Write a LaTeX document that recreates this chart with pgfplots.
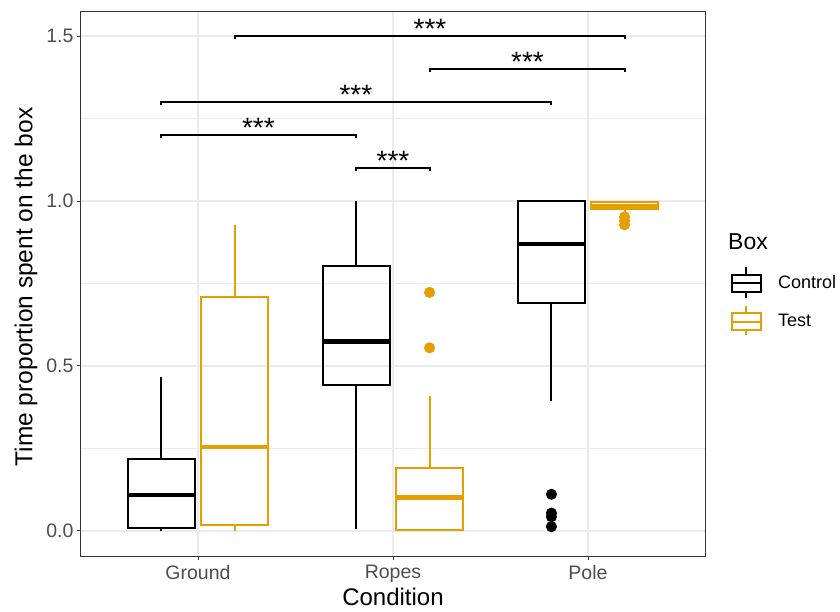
\documentclass[border=0pt]{standalone}
\usepackage{pgfplots}
\pgfplotsset{compat=1.18}
\usepgfplotslibrary{statistics}
\usepackage{fontspec}
\setmainfont{Liberation Sans}
\definecolor{testc}{HTML}{E69F00}
\definecolor{grid92}{HTML}{EBEBEB}
\definecolor{g20}{HTML}{333333}
\definecolor{g30}{HTML}{4D4D4D}
\pgfplotsset{
  boxplot/every median/.style={line width=4.5pt},
  boxplot/every box/.style={line width=2pt},
  boxplot/every whisker/.style={line width=2pt},
}
\begin{document}
\begin{tikzpicture}
\useasboundingbox (-81pt,-55pt) rectangle (759pt,556pt);
\begin{axis}[
  at={(0pt,0pt)}, anchor=south west,
  scale only axis, width=624pt, height=544pt,
  xmin=0.4, xmax=3.6, ymin=-0.076, ymax=1.573,
  boxplot/draw direction=y,
  xtick={1,2,3}, xticklabels={Ground,Ropes,Pole},
  ytick={0,0.5,1,1.5}, minor ytick={0.25,0.75,1.25},
  grid=both,
  major grid style={color=grid92, line width=1.2pt},
  minor grid style={color=grid92, line width=0.8pt},
  axis line style={g20, line width=1pt},
  tick style={g20, line width=1pt},
  tick align=outside, major tick length=4pt, minor tick length=0pt,
  tick pos=left,
  /pgf/number format/assume math mode=true,
  yticklabel style={/pgf/number format/.cd, fixed, fixed zerofill, precision=1},
  xticklabel style={yshift=-2pt},
  ticklabel style={font=\fontsize{19.5}{22}\selectfont, text=g30},
  xlabel={Condition}, ylabel={Time proportion spent on the box},
  label style={font=\fontsize{24}{28}\selectfont},
  xlabel style={at={(axis description cs:0.5,0)}, anchor=base, yshift=-49pt, inner sep=0pt},
  ylabel style={at={(axis description cs:0,0.5)}, anchor=center, yshift=55pt, xshift=-3pt, font=\fontsize{24.5}{28}\selectfont},
  clip=false,
]
% Ground Control
\addplot[black, line width=2pt, mark=*, mark size=4.5pt, mark options={fill=black, draw=black, solid},
  boxplot prepared={draw position=0.8125, lower whisker=0.0, lower quartile=0.008, median=0.109,
    upper quartile=0.218, upper whisker=0.468, box extend=0.34, whisker extend=0}] coordinates {};
% Ground Test
\addplot[testc, line width=2pt, mark=*, mark size=4.5pt, mark options={fill=testc, draw=testc, solid},
  boxplot prepared={draw position=1.1875, lower whisker=0.0, lower quartile=0.018, median=0.254,
    upper quartile=0.708, upper whisker=0.927, box extend=0.34, whisker extend=0}] coordinates {};
% Ropes Control
\addplot[black, line width=2pt, mark=*, mark size=4.5pt, mark options={fill=black, draw=black, solid},
  boxplot prepared={draw position=1.8125, lower whisker=0.006, lower quartile=0.443, median=0.574,
    upper quartile=0.803, upper whisker=1.0, box extend=0.34, whisker extend=0}] coordinates {};
% Ropes Test
\addplot[testc, line width=2pt, mark=*, mark size=4.5pt, mark options={fill=testc, draw=testc, solid},
  boxplot prepared={draw position=2.1875, lower whisker=0.0, lower quartile=0.002, median=0.101,
    upper quartile=0.192, upper whisker=0.409, box extend=0.34, whisker extend=0}]
  table[row sep=\\, y index=0] {0.723\\ 0.555\\};
% Pole Control
\addplot[black, line width=2pt, mark=*, mark size=4.5pt, mark options={fill=black, draw=black, solid},
  boxplot prepared={draw position=2.8125, lower whisker=0.394, lower quartile=0.690, median=0.869,
    upper quartile=1.0, upper whisker=1.0, box extend=0.34, whisker extend=0}]
  table[row sep=\\, y index=0] {0.111\\ 0.054\\ 0.043\\ 0.013\\};
% Pole Test
\addplot[testc, line width=2pt, mark=*, mark size=4.5pt, mark options={fill=testc, draw=testc, solid},
  boxplot prepared={draw position=3.1875, lower whisker=0.964, lower quartile=0.976, median=0.985,
    upper quartile=0.996, upper whisker=1.0, box extend=0.34, whisker extend=0}]
  table[row sep=\\, y index=0] {0.952\\ 0.940\\ 0.928\\};
% significance brackets
\addplot[black, line width=1.8pt] coordinates {(1.19,1.49) (1.19,1.5) (3.19,1.5) (3.19,1.49)};
\addplot[black, line width=1.8pt] coordinates {(2.19,1.39) (2.19,1.4) (3.19,1.4) (3.19,1.39)};
\addplot[black, line width=1.8pt] coordinates {(0.81,1.29) (0.81,1.3) (2.81,1.3) (2.81,1.29)};
\addplot[black, line width=1.8pt] coordinates {(0.81,1.19) (0.81,1.2) (1.81,1.2) (1.81,1.19)};
\addplot[black, line width=1.8pt] coordinates {(1.81,1.09) (1.81,1.1) (2.19,1.1) (2.19,1.09)};
\node[anchor=base, font=\fontsize{28}{28}\selectfont, inner sep=0pt] at (axis cs:2.19,1.494) {***};
\node[anchor=base, font=\fontsize{28}{28}\selectfont, inner sep=0pt] at (axis cs:2.69,1.394) {***};
\node[anchor=base, font=\fontsize{28}{28}\selectfont, inner sep=0pt] at (axis cs:1.81,1.294) {***};
\node[anchor=base, font=\fontsize{28}{28}\selectfont, inner sep=0pt] at (axis cs:1.31,1.194) {***};
\node[anchor=base, font=\fontsize{28}{28}\selectfont, inner sep=0pt] at (axis cs:2.0,1.094) {***};
\end{axis}
% legend
\node[anchor=west, font=\fontsize{23}{27}\selectfont, inner sep=0pt] at (647pt,314.3pt) {Box};
\begin{scope}[line width=1.8pt]
  \draw[black] (650.7pt,264.3pt) rectangle (679.7pt,281pt);
  \draw[black] (650.7pt,273pt) -- (679.7pt,273pt);
  \draw[black] (665.2pt,281pt) -- (665.2pt,289.3pt);
  \draw[black] (665.2pt,264.3pt) -- (665.2pt,258pt);
  \draw[testc] (650.7pt,226pt) rectangle (679.7pt,243pt);
  \draw[testc] (650.7pt,234.3pt) -- (679.7pt,234.3pt);
  \draw[testc] (665.2pt,243pt) -- (665.2pt,250pt);
  \draw[testc] (665.2pt,226pt) -- (665.2pt,221pt);
\end{scope}
\node[anchor=west, font=\fontsize{18}{22}\selectfont, inner sep=0pt] at (697pt,274.3pt) {Control};
\node[anchor=west, font=\fontsize{18}{22}\selectfont, inner sep=0pt] at (697pt,236pt) {Test};
\end{tikzpicture}
\end{document}
